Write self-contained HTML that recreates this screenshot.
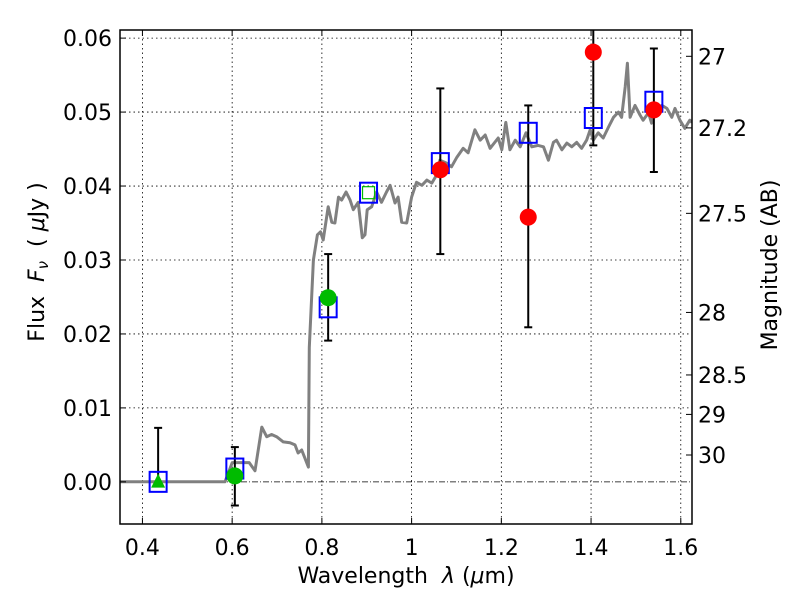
<!DOCTYPE html>
<html><head><meta charset="utf-8">
<style>
html,body{margin:0;padding:0;background:#fff;}
svg{display:block;font-family:"DejaVu Sans","Liberation Sans",sans-serif;}
</style></head>
<body>
<svg id="chart" width="800" height="600" viewBox="0 0 800 600">
<rect width="800" height="600" fill="#fff"/>
<g id="grid"></g>
<g id="spec"></g>
<g id="marks"></g>
<g id="axes"></g>
<text x="406" y="583" text-anchor="middle" font-size="22">Wavelength&#160;&#160;<tspan font-style="italic">λ</tspan> (<tspan font-style="italic">μ</tspan>m)</text>
<text transform="translate(44,262) rotate(-90)" text-anchor="middle" font-size="22">Flux&#160;&#160;<tspan font-style="italic">F</tspan><tspan font-style="italic" font-size="15" dy="4">ν</tspan><tspan dy="-4">&#160;&#160;(&#160;</tspan><tspan font-style="italic">μ</tspan>Jy&#160;)</text>
<text transform="translate(777,265) rotate(-90)" text-anchor="middle" font-size="22">Magnitude (AB)</text>
</svg>
<script>
// ---- data ----
const xTicks = [0.4,0.6,0.8,1.0,1.2,1.4,1.6];
const xTickLabels = ["0.4","0.6","0.8","1","1.2","1.4","1.6"];
const yTicks = [0,0.01,0.02,0.03,0.04,0.05,0.06];
const yTickLabels = ["0.00","0.01","0.02","0.03","0.04","0.05","0.06"];
const magTicks = [27,27.2,27.5,28,28.5,29,30];
const magTickLabels = ["27","27.2","27.5","28","28.5","29","30"];
const specWave = [0.350,0.584,0.600,0.638,0.651,0.666,0.677,0.688,0.699,0.714,0.729,0.740,0.747,0.755,0.770,0.772,0.781,0.790,0.797,0.803,0.814,0.822,0.829,0.837,0.844,0.854,0.863,0.870,0.881,0.890,0.896,0.901,0.911,0.922,0.933,0.944,0.952,0.963,0.970,0.978,0.989,1.000,1.011,1.023,1.034,1.045,1.056,1.063,1.078,1.089,1.101,1.115,1.126,1.141,1.153,1.164,1.175,1.193,1.201,1.210,1.219,1.231,1.242,1.255,1.268,1.282,1.294,1.305,1.316,1.323,1.335,1.346,1.357,1.368,1.379,1.390,1.398,1.405,1.416,1.427,1.439,1.450,1.461,1.468,1.476,1.481,1.487,1.498,1.509,1.516,1.528,1.535,1.546,1.558,1.569,1.580,1.587,1.598,1.609,1.620,1.625];
const specFlux = [0,0,0.0026,0.0026,0.0015,0.0074,0.0061,0.0064,0.0061,0.0054,0.0053,0.0050,0.0039,0.0043,0.0020,0.0182,0.0300,0.0334,0.0338,0.0327,0.0372,0.0351,0.0350,0.0385,0.0381,0.0392,0.0381,0.0368,0.0378,0.0330,0.0334,0.0368,0.0372,0.0392,0.0378,0.0392,0.0401,0.0377,0.0385,0.0351,0.0350,0.0385,0.0405,0.0401,0.0408,0.0404,0.0415,0.0435,0.0431,0.0426,0.0439,0.0451,0.0445,0.0476,0.0462,0.0469,0.0451,0.0465,0.0449,0.0486,0.0449,0.0462,0.0453,0.0472,0.0453,0.0455,0.0453,0.0435,0.0459,0.0462,0.0449,0.0458,0.0453,0.0459,0.0451,0.0462,0.0476,0.0462,0.0472,0.0465,0.0480,0.0493,0.0500,0.0493,0.0534,0.0566,0.0493,0.0509,0.0496,0.0489,0.0499,0.0485,0.0505,0.0509,0.0505,0.0493,0.0505,0.0489,0.0478,0.0489,0.0486];
const modelWave = [0.435,0.606,0.814,0.904,1.064,1.26,1.405,1.54];
const modelFlux = [0.0000,0.0018,0.0236,0.0391,0.0431,0.0472,0.0492,0.0514];
const redWave = [1.064,1.26,1.405,1.54];
const redFlux = [0.0422,0.0358,0.0581,0.0503];
const redLo = [0.0308,0.0209,0.0455,0.0419];
const redHi = [0.0532,0.0509,0.0710,0.0586];
const greenWave = [0.606,0.814];
const greenFlux = [0.0008,0.0249];
const greenLo = [-0.0032,0.0191];
const greenHi = [0.0047,0.0308];
const triWave = [0.435];
const triFlux = [-0.0001];
const triHi = [0.0073];
const insetWave = [0.904];
const insetFlux = [0.0391];

// ---- scales ----
const L=120,R=692,T=30,B=524;
const xMin=0.35,xMax=1.625,yMin=-0.0057,yMax=0.0611;
const X=v=>L+(v-xMin)/(xMax-xMin)*(R-L);
const Y=v=>B-(v-yMin)/(yMax-yMin)*(B-T);
const magToFlux=m=>Math.pow(10,(23.9-m)/2.5);
const NS="http://www.w3.org/2000/svg";
function mk(tag,attrs,parent){const e=document.createElementNS(NS,tag);for(const k in attrs)e.setAttribute(k,attrs[k]);parent.appendChild(e);return e;}
const grid=document.getElementById('grid'),spec=document.getElementById('spec'),marks=document.getElementById('marks'),axes=document.getElementById('axes');

const defs=mk('defs',{},document.getElementById('chart'));
const cp=mk('clipPath',{id:'clip'},defs);mk('rect',{x:L,y:T,width:R-L,height:B-T},cp);
spec.setAttribute('clip-path','url(#clip)');marks.setAttribute('clip-path','url(#clip)');

xTicks.forEach(v=>{const g=mk('line',{x1:X(v),x2:X(v),y1:T,y2:B,stroke:'#000','stroke-width':0.8,'stroke-dasharray':'1.5,3'},grid);

});
yTicks.forEach(v=>{if(v===0)return;const g=mk('line',{x1:L,x2:R,y1:Y(v),y2:Y(v),stroke:'#000','stroke-width':0.8,'stroke-dasharray':'1.5,3'},grid);

});
const zl=mk('line',{x1:L,x2:R,y1:Y(0),y2:Y(0),stroke:'#000','stroke-width':0.8,'stroke-dasharray':'6,2,1,2'},grid);



const sp=mk('polyline',{points:specWave.map((w,i)=>X(w).toFixed(1)+','+Y(specFlux[i]).toFixed(1)).join(' '),fill:'none',stroke:'#808080','stroke-width':3,'stroke-linejoin':'round'},spec);



function ebar(w,lo,hi){const g=mk('g',{},marks);


const x=X(w);mk('line',{x1:x,x2:x,y1:Y(lo),y2:Y(hi),stroke:'#000','stroke-width':2},g);
[lo,hi].forEach(v=>mk('line',{x1:x-4,x2:x+4,y1:Y(v),y2:Y(v),stroke:'#000','stroke-width':2},g));}
greenWave.forEach((w,i)=>ebar(w,greenLo[i],greenHi[i]));
redWave.forEach((w,i)=>ebar(w,redLo[i],redHi[i]));
triWave.forEach((w,i)=>{const x=X(w);const l=mk('line',{x1:x,x2:x,y1:Y(triFlux[i]),y2:Y(triHi[i]),stroke:'#000','stroke-width':2},marks);


const c=mk('line',{x1:x-4,x2:x+4,y1:Y(triHi[i]),y2:Y(triHi[i]),stroke:'#000','stroke-width':2},marks);

});

modelWave.forEach((w,i)=>{const s=mk('rect',{x:X(w)-8.5,y:Y(modelFlux[i])-10,width:17,height:20,fill:'none',stroke:'#0000ff','stroke-width':2},marks);

});
insetWave.forEach((w,i)=>{const s=mk('rect',{x:X(w)-6,y:Y(insetFlux[i])-6,width:12,height:12,fill:'none',stroke:'#00bb00','stroke-width':1.2},marks);

});
greenWave.forEach((w,i)=>{const c=mk('circle',{cx:X(w),cy:Y(greenFlux[i]),r:8.5,fill:'#00bb00'},marks);

});
redWave.forEach((w,i)=>{const c=mk('circle',{cx:X(w),cy:Y(redFlux[i]),r:8.5,fill:'#ff0000'},marks);

});
triWave.forEach((w,i)=>{const x=X(w),y=Y(triFlux[i]);const t=mk('polygon',{points:`${x},${y-9} ${x-7},${y+5} ${x+7},${y+5}`,fill:'#00bb00'},marks);

});

const fr=mk('rect',{x:L,y:T,width:R-L,height:B-T,fill:'none',stroke:'#000','stroke-width':1.5},axes);


xTicks.forEach((v,i)=>{const x=X(v);mk('line',{x1:x,x2:x,y1:B,y2:B-6,stroke:'#000'},axes);mk('line',{x1:x,x2:x,y1:T,y2:T+6,stroke:'#000'},axes);
const t=mk('text',{x:x,y:555,'text-anchor':'middle','font-size':22},axes);t.textContent=xTickLabels[i];

});
yTicks.forEach((v,i)=>{const y=Y(v);mk('line',{x1:L,x2:L+6,y1:y,y2:y,stroke:'#000'},axes);
const t=mk('text',{x:L-8,y:y+8,'text-anchor':'end','font-size':22},axes);t.textContent=yTickLabels[i];

});
magTicks.forEach((m,i)=>{const y=Y(magToFlux(m));mk('line',{x1:R-6,x2:R,y1:y,y2:y,stroke:'#000'},axes);
const t=mk('text',{x:R+6,y:y+8,'font-size':22},axes);t.textContent=magTickLabels[i];

});
</script>
</body></html>
